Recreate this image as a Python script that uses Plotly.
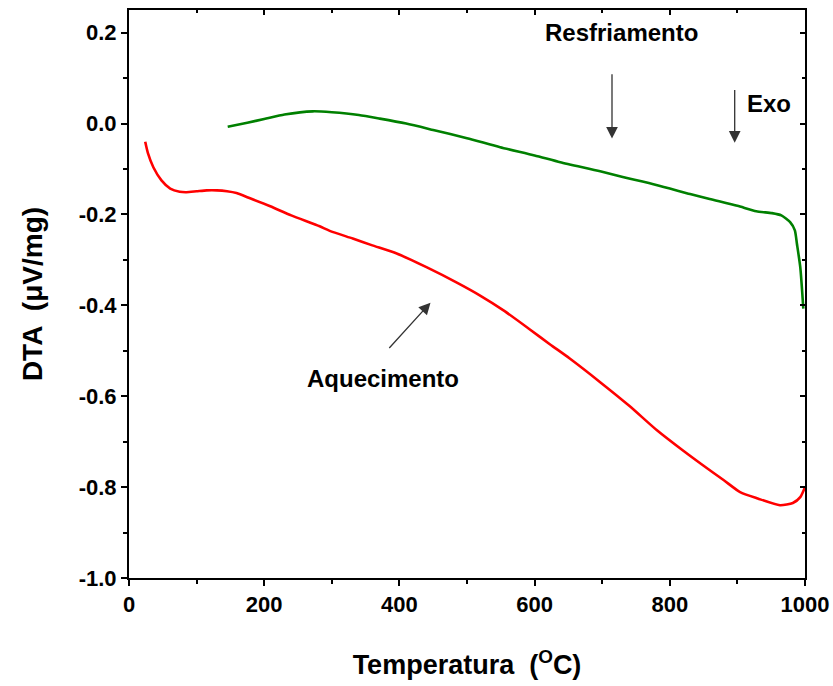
import plotly.graph_objects as go

# Aquecimento (heating) curve
heat_T = [24, 28, 36, 48, 61, 75, 85, 100, 115, 130, 145, 159, 180, 209, 240, 282, 297, 331, 360,
          396, 440, 485, 520, 554, 593, 623, 652, 697, 740, 781, 819, 849, 880, 904, 930, 963, 982, 993, 1000]
heat_dta = [-0.040, -0.065, -0.096, -0.125, -0.143, -0.150, -0.151, -0.149, -0.147, -0.147, -0.149, -0.153,
            -0.165, -0.182, -0.202, -0.226, -0.236, -0.253, -0.268, -0.286, -0.316, -0.350, -0.379, -0.411,
            -0.453, -0.486, -0.517, -0.569, -0.621, -0.675, -0.719, -0.752, -0.785, -0.811, -0.825, -0.840,
            -0.835, -0.822, -0.800]

# Resfriamento (cooling) curve
cool_T = [146, 175, 200, 230, 272, 300, 340, 371, 410, 450, 500, 549, 600, 638, 697, 726, 780, 830, 859,
          900, 928, 951, 965, 978, 985, 988, 993, 997.5]
cool_dta = [-0.007, 0.002, 0.010, 0.020, 0.027, 0.025, 0.019, 0.011, 0.000, -0.014, -0.032, -0.052, -0.070,
            -0.085, -0.105, -0.116, -0.135, -0.155, -0.166, -0.181, -0.193, -0.197, -0.202, -0.217, -0.235,
            -0.264, -0.316, -0.407]

x_ticks = [0, 200, 400, 600, 800, 1000]
y_ticks = [-1.0, -0.8, -0.6, -0.4, -0.2, 0.0, 0.2]
y_tick_text = ["-1.0", "-0.8", "-0.6", "-0.4", "-0.2", "0.0", "0.2"]

FONT = "Liberation Sans, Arial, sans-serif"

fig = go.Figure()
fig.add_trace(go.Scatter(x=heat_T, y=heat_dta, mode="lines",
                         line=dict(color="#ff0000", width=2.6, shape="spline", smoothing=0.6),
                         name="Aquecimento", showlegend=False))
fig.add_trace(go.Scatter(x=cool_T, y=cool_dta, mode="lines",
                         line=dict(color="#008000", width=2.6, shape="spline", smoothing=0.6),
                         name="Resfriamento", showlegend=False, xaxis="x2", yaxis="y2"))

axis_common = dict(showgrid=False, zeroline=False, showline=True, linecolor="black", linewidth=2,
                   ticks="outside", ticklen=6, tickwidth=2, tickcolor="black", automargin=False)

fig.update_layout(
    width=833, height=686,
    margin=dict(l=129, r=28, t=10, b=108),
    plot_bgcolor="white", paper_bgcolor="white",
    font=dict(family=FONT, color="black"),
    xaxis=dict(**axis_common, range=[0, 1000], tickvals=x_ticks,
               minor=dict(ticks="outside", ticklen=4, tickwidth=2, dtick=100, tick0=0, tickcolor="black"),
               tickfont=dict(size=22, weight="bold"),
               title=dict(text="Temperatura  (<sup>O</sup>C)", font=dict(size=27, weight="bold"), standoff=39)),
    yaxis=dict(**axis_common, range=[-1.0, 0.25], tickvals=y_ticks, ticktext=y_tick_text,
               minor=dict(ticks="outside", ticklen=4, tickwidth=2, dtick=0.1, tick0=0, tickcolor="black"),
               tickfont=dict(size=22, weight="bold"),
               title=dict(text="DTA  (μV/mg)", font=dict(size=28, weight="bold"), standoff=28)),
    xaxis2=dict(**{**axis_common, "ticks": "inside", "ticklen": 5}, range=[0, 1000], overlaying="x", side="top",
                tickvals=x_ticks, showticklabels=False,
                minor=dict(ticks="inside", ticklen=3, tickwidth=1.5, dtick=100, tick0=0, tickcolor="black")),
    yaxis2=dict(**{**axis_common, "ticks": "inside", "ticklen": 5}, range=[-1.0, 0.25], overlaying="y", side="right",
                tickvals=y_ticks, showticklabels=False,
                minor=dict(ticks="inside", ticklen=3, tickwidth=1.5, dtick=0.1, tick0=0, tickcolor="black")),
)

# Arrow annotations
arrow_style = dict(showarrow=True, arrowhead=2, arrowsize=1.8, arrowwidth=1.3, arrowcolor="#333333",
                   axref="x", ayref="y", xref="x", yref="y", text="")
fig.add_annotation(x=714.5, y=-0.033, ax=714.5, ay=0.112, **arrow_style)
fig.add_annotation(x=896, y=-0.042, ax=896, ay=0.077, **arrow_style)
fig.add_annotation(x=446, y=-0.394, ax=383, ay=-0.497, **arrow_style)

label_font = dict(family=FONT, size=24, color="black", weight="bold")
fig.add_annotation(x=729, y=0.20, xref="x", yref="y", text="Resfriamento", showarrow=False, font=label_font)
fig.add_annotation(x=946, y=0.044, xref="x", yref="y", text="Exo", showarrow=False, font=label_font)
fig.add_annotation(x=375, y=-0.560, xref="x", yref="y", text="Aquecimento", showarrow=False, font=label_font)

fig.write_html("out.html")
